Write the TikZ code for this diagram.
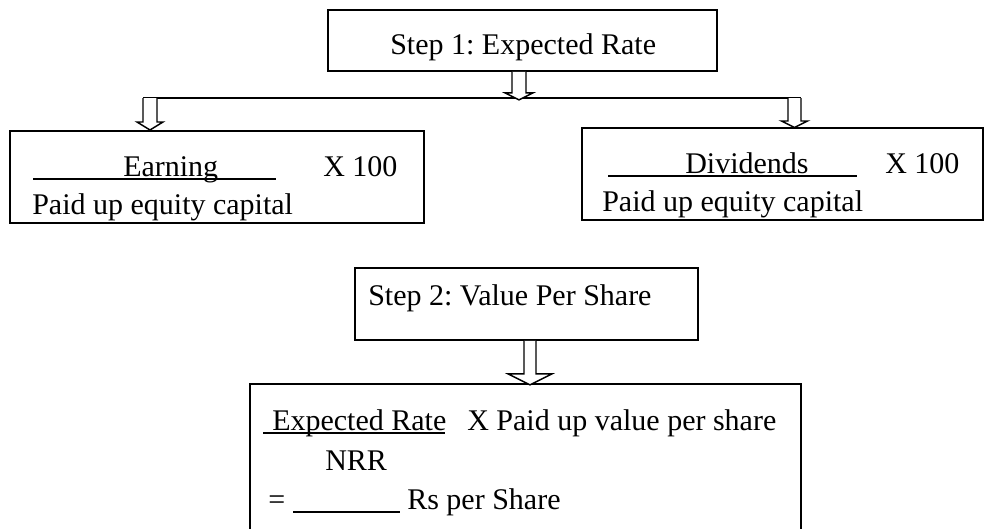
\documentclass[tikz,border=0pt]{standalone}
\usepackage{fontspec}
\setmainfont{Liberation Serif}
\usetikzlibrary{fit}
\frenchspacing

% Hollow block arrow hanging down from a named coordinate:
% #1 start, #2 shaft length, #3 head length, #4 half shaft width, #5 half head width
\newcommand\BlockArrow[5]{%
  \draw[arrowline] (#1) ++(-#4,0) -- ++(0,#2) -- ++(#4-#5,0) -- ++(#5,#3)
    -- ++(#5,-#3) -- ++(#4-#5,0) -- ++(0,-#2);}

\begin{document}
\begin{tikzpicture}[x=0.75pt,y=-0.75pt,
  box/.style={draw=black, line width=1.3pt, inner sep=0pt, rectangle},
  arrowline/.style={draw=black, fill=white, line width=1.1pt, line join=miter},
  bar/.style={draw=black, line width=1.1pt},
  uline/.style={draw=black, line width=0.9pt},
  txt/.style={inner sep=0pt, anchor=base west, font=\fontsize{22.5}{27}\selectfont}]

\useasboundingbox[fill=white] (0,0) rectangle (984,528);

% boxes
\node[box, fit={(328,10) (717,71)}] (s1) {};
\node[box, fit={(10,131) (424,223)}] (lb) {};
\node[box, fit={(582,128) (983,220)}] (rb) {};
\node[box, fit={(355,268) (698,340)}] (s2) {};
\node[box, fit={(250,384) (801,545)}] (bb) {};

% texts
\node[txt] (t1) at (390,55) {Step 1: Expected Rate};

\node[txt] (le) at (123,176) {Earning};
\node[txt] (lx) at (323,176) {X 100};
\node[txt] (lp) at (32,214) {Paid up equity capital};
\coordinate (lu1) at (33,179);
\coordinate (lu2) at (276,179);
\draw[uline] (lu1) -- (lu2);

\node[txt] (rd) at (685,173) {Dividends};
\node[txt] (rx) at (885,173) {X 100};
\node[txt] (rp) at (602,211) {Paid up equity capital};
\coordinate (ru1) at (608,176);
\coordinate (ru2) at (857,176);
\draw[uline] (ru1) -- (ru2);

\node[txt] (t2) at (368,305) {Step 2: Value Per Share};

\node[txt] (be) at (272,430) {Expected Rate};
\node[txt] (bx) at (467,430) {X Paid up value per share};
\coordinate (bu1) at (263,433);
\coordinate (bu2) at (445,433);
\draw[uline] (bu1) -- (bu2);
\node[txt] (bn) at (325,470) {NRR};
\node[txt] (beq) at (268,509) {=};
\coordinate (bb1) at (293,512);
\coordinate (bb2) at (400,512);
\draw[uline] (bb1) -- (bb2);
\node[txt] (brs) at (407,509) {Rs per Share};

% connectors
\coordinate (barL) at (143,98);
\coordinate (barR) at (801,98);
\draw[bar] (barL) -- (barR);

\coordinate (a1) at (s1.south -| 519,0);
\coordinate (a2) at (150,98);
\coordinate (a3) at (794.5,98);
\coordinate (a4) at (s2.south -| 530,0);

\BlockArrow{a1}{21}{7}{7}{14}
\BlockArrow{a2}{24}{8}{7}{13}
\BlockArrow{a3}{23}{6.5}{6.5}{13}
\BlockArrow{a4}{33}{11}{6}{22}

\end{tikzpicture}
\end{document}
